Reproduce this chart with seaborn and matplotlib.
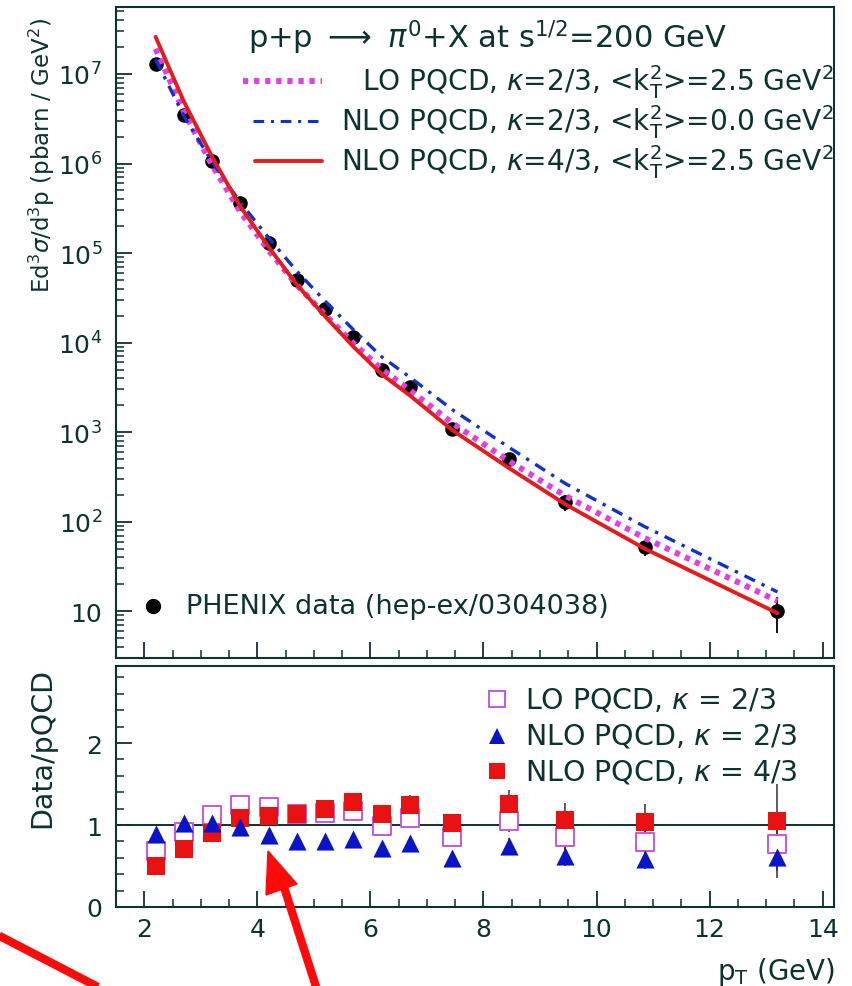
import numpy as np
import pandas as pd
import matplotlib
matplotlib.use("Agg")
import matplotlib.pyplot as plt
import seaborn as sns
from matplotlib.lines import Line2D
from matplotlib.patches import Polygon
from matplotlib.ticker import FuncFormatter, MultipleLocator, LogLocator, NullFormatter, FixedLocator

# ---------------- data ----------------
pt = [2.2, 2.7, 3.2, 3.7, 4.2, 4.7, 5.2, 5.7, 6.2, 6.7, 7.45, 8.45, 9.45, 10.85, 13.2]
phenix = [1.3e7, 3.5e6, 1.07e6, 3.6e5, 1.3e5, 5.0e4, 2.35e4, 1.15e4, 5.0e3, 3.2e3,
          1.07e3, 500, 165, 52, 10]
phenix_relerr = [0.04, 0.04, 0.05, 0.07, 0.06, 0.06, 0.08, 0.07, 0.07, 0.09,
                 0.07, 0.13, 0.20, 0.21, 0.43]
lo_k23 = [1.91e7, 3.8e6, 9.55e5, 2.88e5, 1.07e5, 4.39e4, 2.04e4, 9.83e3, 5.05e3, 2.94e3,
          1.26e3, 476, 194, 65.8, 13.0]
nlo_k23 = [1.46e7, 3.4e6, 1.04e6, 3.67e5, 1.48e5, 6.25e4, 2.9e4, 1.39e4, 6.94e3, 4.1e3,
           1.78e3, 676, 266, 88, 16.4]
nlo_k43 = [2.6e7, 4.93e6, 1.19e6, 3.3e5, 1.17e5, 4.42e4, 1.96e4, 8.98e3, 4.42e3, 2.56e3,
           1.05e3, 397, 156, 50, 9.5]
ratio_lo_k23 = [0.68, 0.92, 1.12, 1.25, 1.22, 1.14, 1.15, 1.17, 0.99, 1.09,
                0.85, 1.05, 0.85, 0.79, 0.77]
ratio_nlo_k23 = [0.89, 1.03, 1.03, 0.98, 0.88, 0.80, 0.81, 0.83, 0.72, 0.78,
                 0.60, 0.74, 0.62, 0.59, 0.61]
ratio_nlo_k43 = [0.50, 0.71, 0.90, 1.09, 1.11, 1.13, 1.20, 1.28, 1.13, 1.25,
                 1.02, 1.26, 1.06, 1.04, 1.05]

curve_labels = [r"LO PQCD, $\kappa$=2/3, <k$_\mathregular{T}^\mathregular{2}$>=2.5 GeV$^\mathregular{2}$",
                r"NLO PQCD, $\kappa$=2/3, <k$_\mathregular{T}^\mathregular{2}$>=0.0 GeV$^\mathregular{2}$",
                r"NLO PQCD, $\kappa$=4/3, <k$_\mathregular{T}^\mathregular{2}$>=2.5 GeV$^\mathregular{2}$"]
ratio_labels = [r"LO PQCD, $\kappa$ = 2/3", r"NLO PQCD, $\kappa$ = 2/3", r"NLO PQCD, $\kappa$ = 4/3"]

# ---------------- style ----------------
sns.set_theme(style="ticks")
plt.rcParams["font.family"] = ["DejaVu Sans"]
plt.rcParams["mathtext.fontset"] = "dejavusans"
INK = "#0c3232"
MAG = "#e23ee2"
BLUE = "#1030d0"
RED = "#e41c1c"
TRI = "#0814c8"
SQR = "#e81212"
OPEN = "#c458e0"

W, H = 852, 987
fig = plt.figure(figsize=(W / 100, H / 100), dpi=100)
fig.patch.set_facecolor("white")


def fx(x):
    return x / W


def fy(y):
    return 1 - y / H


ax1 = fig.add_axes([fx(116), fy(659), fx(834) - fx(116), fy(8) - fy(659)])
ax2 = fig.add_axes([fx(116), fy(908), fx(834) - fx(116), fy(667) - fy(908)])

df = pd.DataFrame({"pt": pt, "data": phenix, "err": np.array(phenix) * np.array(phenix_relerr),
                   "lo": lo_k23, "nlo23": nlo_k23, "nlo43": nlo_k43,
                   "r_lo": ratio_lo_k23, "r_nlo23": ratio_nlo_k23, "r_nlo43": ratio_nlo_k43,
                   "rel": phenix_relerr})

# ---------------- top panel ----------------
ax1.errorbar(df["pt"], df["data"], yerr=df["err"], fmt="none", ecolor="black", elinewidth=1.3, zorder=2)
sns.scatterplot(data=df, x="pt", y="data", ax=ax1, color="black", s=110, edgecolor="black",
                linewidth=0, zorder=3, legend=False)
sns.lineplot(data=df, x="pt", y="lo", ax=ax1, color=MAG, lw=4.2, zorder=4, legend=False)
ax1.lines[-1].set_linestyle((0, (0.9, 1.0)))
sns.lineplot(data=df, x="pt", y="nlo23", ax=ax1, color=BLUE, lw=2.4, zorder=4, legend=False)
ax1.lines[-1].set_linestyle((0, (3.5, 2.2, 1.0, 2.2)))
sns.lineplot(data=df, x="pt", y="nlo43", ax=ax1, color=RED, lw=2.8, zorder=5, legend=False)

ax1.set_yscale("log")
ax1.set_xlim(1.5, 14.2)
ax1.set_ylim(3.0, 5.6e7)
ax1.set_xlabel("")
ax1.set_ylabel("")
ax1.yaxis.set_major_locator(FixedLocator([10.0 ** k for k in range(1, 8)]))
ax1.yaxis.set_minor_locator(LogLocator(base=10, subs=np.arange(2, 10), numticks=20))
ax1.yaxis.set_minor_formatter(NullFormatter())


def logfmt(v, pos):
    n = int(round(np.log10(v)))
    return "10" if n == 1 else r"$\mathregular{10^{%d}}$" % n


ax1.yaxis.set_major_formatter(FuncFormatter(logfmt))
ax1.xaxis.set_major_locator(MultipleLocator(2))
ax1.xaxis.set_minor_locator(MultipleLocator(0.5))
ax1.tick_params(axis="x", labelbottom=False)

# ---------------- bottom panel ----------------
ax2.axhline(1.0, color=INK, lw=1.4, zorder=1)
for col in ["r_lo", "r_nlo43", "r_nlo23"]:
    ax2.errorbar(df["pt"], df[col], yerr=df[col] * df["rel"], fmt="none", ecolor="#333333",
                 elinewidth=1.1, zorder=2)
sns.scatterplot(data=df, x="pt", y="r_lo", ax=ax2, marker="s", s=150, facecolor="white",
                edgecolor=OPEN, linewidth=1.4, zorder=3, legend=False)
sns.scatterplot(data=df, x="pt", y="r_nlo43", ax=ax2, marker="s", s=150, color=SQR,
                edgecolor=SQR, linewidth=0, zorder=4, legend=False)
sns.scatterplot(data=df, x="pt", y="r_nlo23", ax=ax2, marker="^", s=170, color=TRI,
                edgecolor=TRI, linewidth=0, zorder=5, legend=False)
ax2.set_xlim(1.5, 14.2)
ax2.set_ylim(0, 2.94)
ax2.set_xlabel("")
ax2.set_ylabel("")
ax2.xaxis.set_major_locator(MultipleLocator(2))
ax2.xaxis.set_minor_locator(MultipleLocator(0.5))
ax2.yaxis.set_major_locator(MultipleLocator(1))
ax2.yaxis.set_minor_locator(MultipleLocator(0.2))
ax2.xaxis.set_major_formatter(FuncFormatter(lambda v, p: "%d" % v))
ax2.yaxis.set_major_formatter(FuncFormatter(lambda v, p: "%d" % v))

for ax in (ax1, ax2):
    for s in ax.spines.values():
        s.set_visible(True)
        s.set_color(INK)
        s.set_linewidth(1.5)
    ax.tick_params(which="major", direction="in", length=11.5, width=1.3, color=INK,
                   labelsize=18, labelcolor=INK, top=False, right=False)
    ax.tick_params(which="minor", direction="in", length=5.5, width=1.1, color=INK,
                   top=False, right=False)
    ax.tick_params(axis="y", pad=10)
    ax.tick_params(axis="x", pad=7)
    ax.set_facecolor("white")
    ax.grid(False)

# ---------------- texts ----------------
fig.text(fx(248), fy(38), r"p+p $\longrightarrow$ $\pi^\mathregular{0}$+X at s$^\mathregular{1/2}$=200 GeV",
         fontsize=22, color=INK, ha="left", va="center")
leg_styles = [dict(color=MAG, lw=4.2, ls=(0, (0.9, 1.0))),
              dict(color=BLUE, lw=2.2, ls=(0, (3.5, 2.2, 1.0, 2.2))),
              dict(color=RED, lw=2.8, ls="-")]
leg_y = [82, 122, 162]
leg_x = [(243, 322), (253, 318), (255, 322)]
for lab, st, yy, (xa, xb) in zip(curve_labels, leg_styles, leg_y, leg_x):
    fig.add_artist(Line2D([fx(xa), fx(xb)], [fy(yy), fy(yy)], transform=fig.transFigure, **st))
    fig.text(fx(834), fy(yy), lab, fontsize=20.2, color=INK, ha="right", va="center")

fig.add_artist(Line2D([fx(153)], [fy(607)], marker="o", ms=10, color="black", ls="none",
                      transform=fig.transFigure))
fig.text(fx(186), fy(607), "PHENIX data (hep-ex/0304038)", fontsize=19.5, color=INK,
         ha="left", va="center")

ratio_handles = [dict(marker="s", ms=11, mfc="white", mec=OPEN, mew=1.4),
                 dict(marker="^", ms=12, mfc=TRI, mec=TRI, mew=0),
                 dict(marker="s", ms=11, mfc=SQR, mec=SQR, mew=0)]
for lab, hd, yy in zip(ratio_labels, ratio_handles, [700, 737, 772]):
    fig.add_artist(Line2D([fx(497)], [fy(yy)], ls="none", transform=fig.transFigure, **hd))
    fig.text(fx(525), fy(yy), lab, fontsize=20.5, color=INK, ha="left", va="center")

fig.text(fx(42), fy(18), r"Ed$^\mathregular{3}\sigma$/d$^\mathregular{3}$p (pbarn / GeV$^\mathregular{2}$)",
         rotation=90, fontsize=16.5, color=INK, ha="center", va="top")
fig.text(fx(42), fy(668), "Data/pQCD", rotation=90, fontsize=20.5, color=INK, ha="center", va="top")
fig.text(fx(835), fy(972), r"p$_\mathregular{T}$ (GeV)", fontsize=20, color=INK, ha="right", va="center")

# ---------------- red annotation arrows ----------------
ARROW = "#ff0a0a"
fig.add_artist(Line2D([fx(-10), fx(125)], [fy(932), fy(1002)], color=ARROW, lw=6,
                      transform=fig.transFigure, solid_capstyle="butt"))
fig.add_artist(Line2D([fx(283), fx(320)], [fy(885), fy(1000)], color=ARROW, lw=6,
                      transform=fig.transFigure, solid_capstyle="butt"))
fig.add_artist(Polygon([[fx(268), fy(852)], [fx(266), fy(896)], [fx(297), fy(885)]],
                       closed=True, color=ARROW, transform=fig.transFigure))

fig.savefig("out.png", dpi=100, facecolor="white")
